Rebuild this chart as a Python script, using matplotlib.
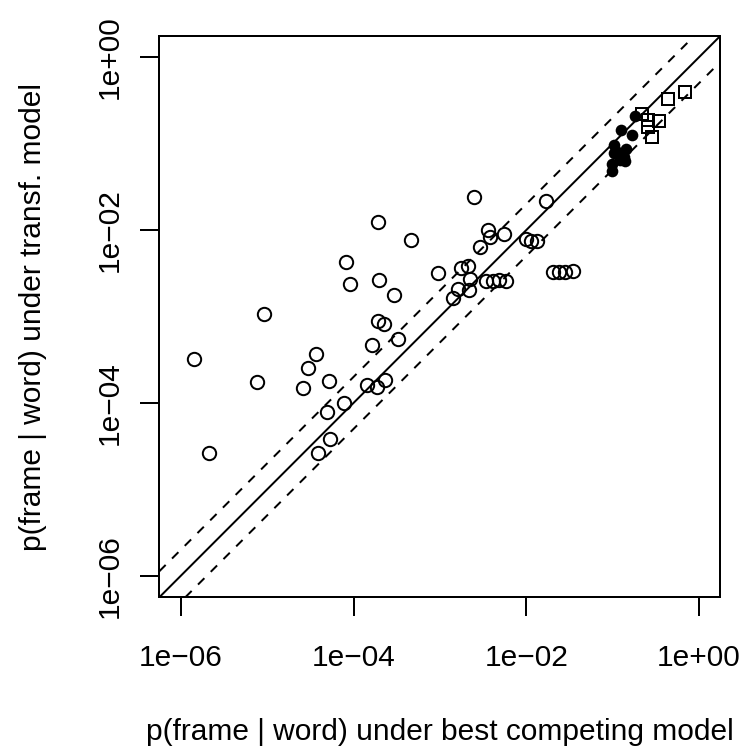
import numpy as np
import matplotlib
matplotlib.use("Agg")
import matplotlib.pyplot as plt

plt.rcParams['font.family'] = ['Liberation Sans', 'DejaVu Sans']

# open circles: other frames
open_x = [1.42e-6, 2.10e-6, 9.08e-6, 7.60e-6, 2.56e-5, 2.98e-5, 3.66e-5, 5.13e-5,
          7.82e-5, 4.97e-5, 5.31e-5, 3.85e-5, 8.24e-5, 9.16e-5, 1.91e-4, 4.62e-4,
          1.98e-4, 2.93e-4, 1.91e-4, 2.22e-4, 3.24e-4, 1.64e-4, 1.42e-4, 1.88e-4,
          2.31e-4, 9.53e-4, 2.48e-3, 1.70e-2, 3.59e-3, 3.76e-3, 5.52e-3, 2.88e-3,
          9.79e-3, 1.14e-2, 1.34e-2, 1.73e-3, 2.11e-3, 2.22e-3, 3.37e-3, 4.06e-3,
          4.86e-3, 5.79e-3, 1.60e-3, 2.18e-3, 1.42e-3, 2.02e-2, 2.37e-2, 2.80e-2,
          3.49e-2]
open_y = [3.20e-4, 2.66e-5, 1.06e-3, 1.73e-4, 1.50e-4, 2.52e-4, 3.66e-4, 1.78e-4,
          9.93e-5, 7.76e-5, 3.80e-5, 2.62e-5, 4.27e-3, 2.38e-3, 1.23e-2, 7.66e-3,
          2.61e-3, 1.79e-3, 8.93e-4, 8.13e-4, 5.45e-4, 4.69e-4, 1.60e-4, 1.54e-4,
          1.85e-4, 3.21e-3, 2.38e-2, 2.18e-2, 1.01e-2, 8.41e-3, 9.04e-3, 6.40e-3,
          7.83e-3, 7.52e-3, 7.46e-3, 3.59e-3, 3.85e-3, 2.74e-3, 2.59e-3, 2.59e-3,
          2.64e-3, 2.59e-3, 2.09e-3, 2.01e-3, 1.62e-3, 3.24e-3, 3.24e-3, 3.24e-3,
          3.38e-3]

# filled circles
filled_x = [0.183, 0.126, 0.167, 0.103, 0.144, 0.103, 0.134, 0.138, 0.0984, 0.0973, 0.123, 0.110]
filled_y = [0.209, 0.142, 0.125, 0.0962, 0.0875, 0.0776, 0.0698, 0.0632, 0.0579, 0.0488, 0.0644, 0.0832]

# squares
square_x = [0.698, 0.435, 0.220, 0.259, 0.340, 0.256, 0.282]
square_y = [0.396, 0.331, 0.222, 0.189, 0.181, 0.156, 0.119]

ref_factor = 2.0
tick_vals = [1e-6, 1e-4, 1e-2, 1e0]
tick_labels = ['1e\u221206', '1e\u221204', '1e\u221202', '1e+00']
xlabel = 'p(frame | word) under best competing model'
ylabel = 'p(frame | word) under transf. model'

W, H = 747, 749
fig = plt.figure(figsize=(W / 100, H / 100), dpi=100)
left, right, top, bottom = 159.3, 719.7, 36.5, 597.3
ax = fig.add_axes([left / W, 1 - bottom / H, (right - left) / W, (bottom - top) / H])
ax.set_xscale('log')
ax.set_yscale('log')
lo, hi = 10 ** -6.251, 10 ** 0.240
ax.set_xlim(lo, hi)
ax.set_ylim(lo, hi)

lw = 1.44
ax.axline((1e-7, 1e-7), (1.0, 1.0), color='black', lw=lw)
ax.axline((1e-7, 1e-7 * ref_factor), (1.0, ref_factor), color='black', lw=lw,
          linestyle=(0, (4.5, 4.5)))
ax.axline((1e-7, 1e-7 / ref_factor), (1.0, 1.0 / ref_factor), color='black', lw=lw,
          linestyle=(0, (4.5, 4.5)))

ax.plot(open_x, open_y, linestyle='none', marker='o', markersize=9.6,
        markerfacecolor='none', markeredgecolor='black', markeredgewidth=lw)
ax.plot(filled_x, filled_y, linestyle='none', marker='o', markersize=8.4,
        markerfacecolor='black', markeredgecolor='black', markeredgewidth=0)
ax.plot(square_x, square_y, linestyle='none', marker='s', markersize=8.4,
        markerfacecolor='none', markeredgecolor='black', markeredgewidth=lw)

ax.xaxis.set_major_locator(matplotlib.ticker.FixedLocator(tick_vals))
ax.yaxis.set_major_locator(matplotlib.ticker.FixedLocator(tick_vals))
ax.xaxis.set_minor_locator(matplotlib.ticker.NullLocator())
ax.yaxis.set_minor_locator(matplotlib.ticker.NullLocator())
ax.set_xticklabels(tick_labels)
ax.set_yticklabels(tick_labels, rotation=90, va='center')

for s in ax.spines.values():
    s.set_linewidth(lw)
fs = 21.5
ax.tick_params(axis='both', length=13.7, width=lw, labelsize=fs)
ax.tick_params(axis='x', pad=20)
ax.tick_params(axis='y', pad=12)

cx = (left + right) / 2
cy = (top + bottom) / 2
fig.text(cx / W, 1 - 740.5 / H, xlabel, fontsize=fs, ha='center', va='baseline')
fig.text(41 / W, 1 - cy / H, ylabel, fontsize=fs, ha='center', va='baseline',
         rotation=90, rotation_mode='anchor')

fig.savefig('out.png', dpi=100)
